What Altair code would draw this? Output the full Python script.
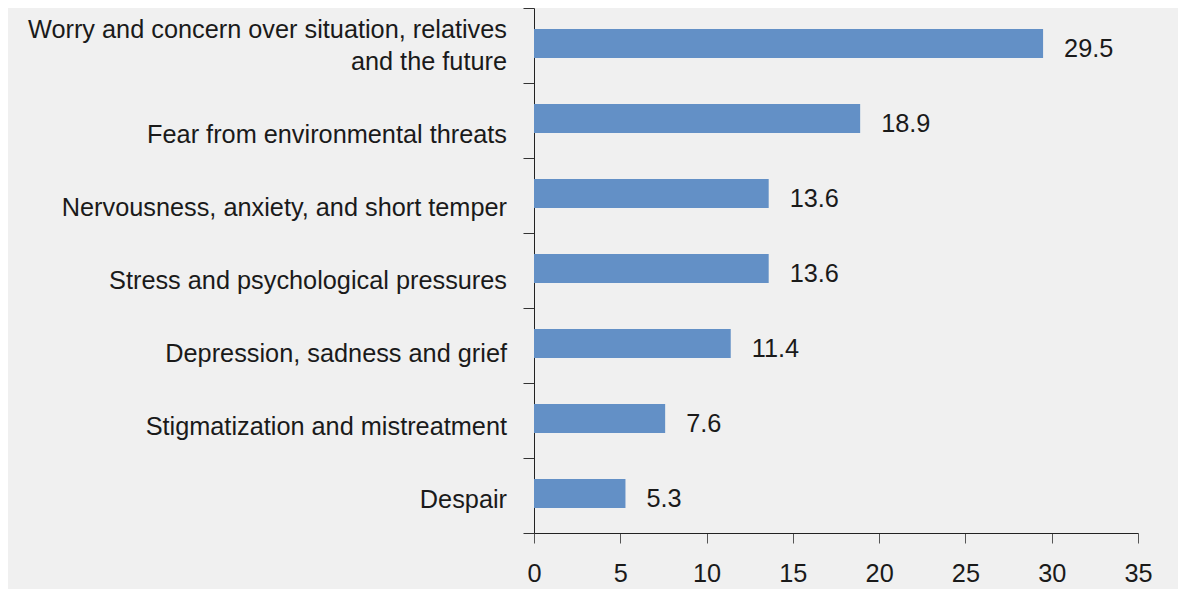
import altair as alt
import pandas as pd

categories = [
    "Worry and concern over situation, relatives\nand the future",
    "Fear from environmental threats",
    "Nervousness, anxiety, and short temper",
    "Stress and psychological pressures",
    "Depression, sadness and grief",
    "Stigmatization and mistreatment",
    "Despair",
]
values = [29.5, 18.9, 13.6, 13.6, 11.4, 7.6, 5.3]
x_ticks = [0, 5, 10, 15, 20, 25, 30, 35]

df = pd.DataFrame({"category": categories, "value": values})

FONT = "Liberation Sans"
TEXT = "#1a1a1a"
FS = 25.3

y_bar = alt.Y(
    "category:N",
    sort=None,
    scale=alt.Scale(paddingInner=0, paddingOuter=0),
    axis=alt.Axis(
        title=None,
        labels=False,
        tickBand="extent",
        tickSize=11,
        tickColor="#333333",
        domainColor="#222222",
    ),
)
x_enc = alt.X(
    "value:Q",
    scale=alt.Scale(domain=[0, 35], nice=False),
    axis=alt.Axis(
        title=None,
        values=x_ticks,
        grid=False,
        tickSize=10,
        tickColor="#555555",
        domainColor="#222222",
        labelPadding=18,
        labelFlush=False,
        labelFontSize=FS,
        labelFont=FONT,
        labelColor=TEXT,
    ),
)

bars = alt.Chart(df).mark_bar(color="#6390c6", size=29, yOffset=-2).encode(y=y_bar, x=x_enc)
value_text = alt.Chart(df).mark_text(
    align="left", baseline="middle", dx=21, dy=3, fontSize=FS, font=FONT, color=TEXT
).encode(
    y=alt.Y("category:N", sort=None),
    x="value:Q",
    text=alt.Text("value:Q", format=".1f"),
)

label_scale = alt.Scale(type="point", domain=categories, range=[54, 492], padding=0)
label_y = alt.Y("category:N", sort=None, scale=label_scale, axis=None)

single_labels = (
    alt.Chart(df)
    .transform_filter("indexof(datum.category, '\\n') < 0")
    .mark_text(align="right", baseline="middle", fontSize=FS, font=FONT, color=TEXT)
    .encode(y=label_y, x=alt.value(-27), text="category:N")
)
multi_labels = (
    alt.Chart(df)
    .transform_filter("indexof(datum.category, '\\n') >= 0")
    .mark_text(
        align="right", baseline="middle", fontSize=FS, font=FONT, color=TEXT,
        lineBreak="\n", lineHeight=32, dy=-32,
    )
    .encode(y=label_y, x=alt.value(-27), text="category:N")
)

chart = (
    alt.layer(alt.layer(bars, value_text), alt.layer(single_labels, multi_labels))
    .resolve_scale(y="independent")
    .properties(
        width=604,
        height=525,
        autosize=alt.AutoSizeParams(type="none"),
        padding={"left": 526, "top": 0, "right": 40, "bottom": 57},
        background="#f0f0f0",
    )
    .configure_view(stroke=None)
)

chart.save("out.html", embed_options={"renderer": "svg", "actions": False})
